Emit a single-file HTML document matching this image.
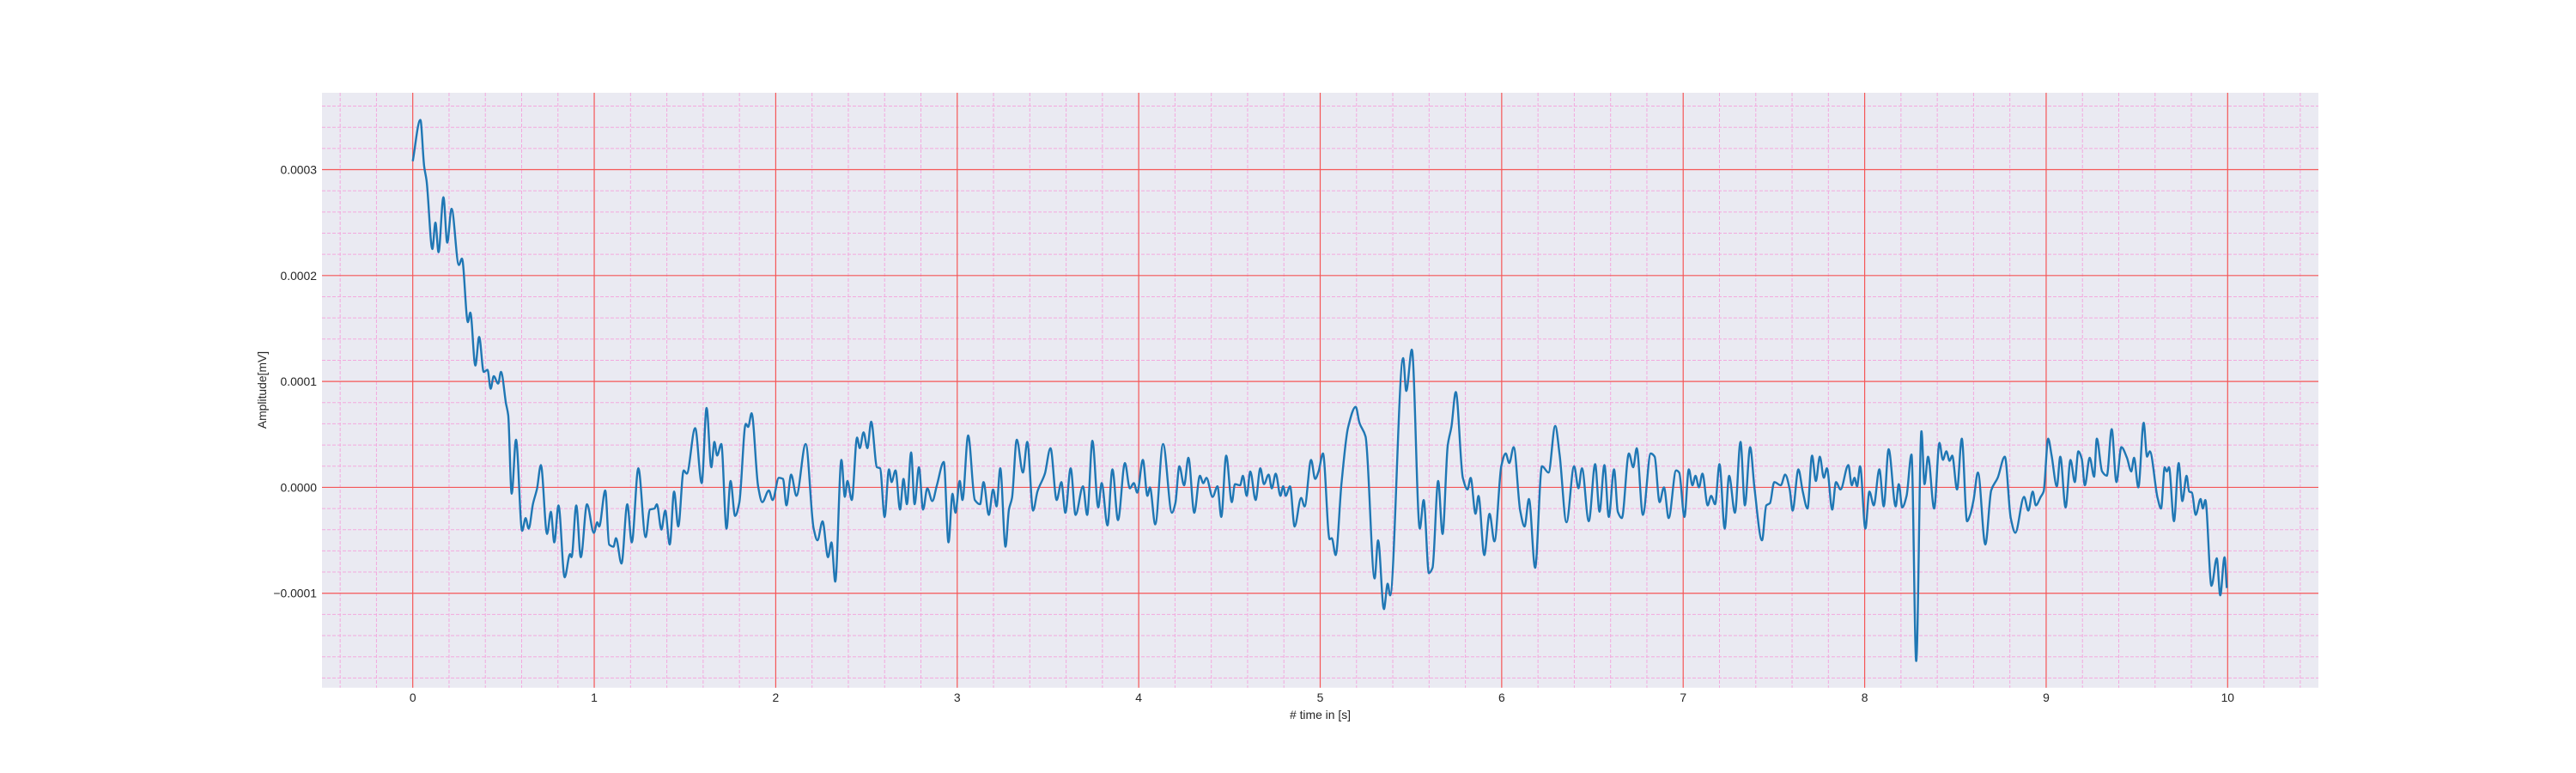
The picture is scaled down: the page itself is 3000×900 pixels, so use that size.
<!DOCTYPE html>
<html><head><meta charset="utf-8"><style>
html,body{margin:0;padding:0;background:#fff;}
svg{display:block;font-family:"Liberation Sans",Arial,sans-serif;}
</style></head><body>
<svg id="chart" width="3000" height="900" xmlns="http://www.w3.org/2000/svg">
<rect x="375" y="108" width="2325" height="692.7" fill="#eaeaf2"/>
<g id="grid"></g>
<g id="series"></g>
<g id="ticks"></g>
<text x="1537.5" y="837" font-size="13.9" fill="#262626" text-anchor="middle"># time in [s]</text>
<text x="0" y="0" font-size="13.9" fill="#262626" text-anchor="middle" transform="translate(310,454) rotate(-90)">Amplitude[mV]</text>
</svg>
<script>
const times=[0,.042,.063,.076,.108,.125,.142,.169,.19,.214,.254,.271,.304,.317,.345,.366,.391,.412,.429,.446,.471,.486,.514,.526,.545,.569,.603,.622,.639,.662,.685,.706,.740,.761,.780,.803,.837,.867,.875,.901,.926,.960,.998,1.017,1.027,1.061,1.082,1.106,1.120,1.150,1.182,1.207,1.243,1.283,1.307,1.332,1.345,1.370,1.391,1.416,1.440,1.463,1.493,1.510,1.556,1.592,1.619,1.645,1.662,1.677,1.700,1.729,1.751,1.776,1.799,1.835,1.848,1.867,1.903,1.926,1.962,1.983,2.017,2.040,2.059,2.085,2.114,2.165,2.209,2.230,2.258,2.288,2.307,2.328,2.362,2.381,2.395,2.419,2.448,2.463,2.484,2.505,2.526,2.558,2.575,2.600,2.624,2.638,2.660,2.685,2.704,2.723,2.746,2.765,2.789,2.812,2.835,2.863,2.888,2.926,2.952,2.974,2.990,3.014,3.029,3.060,3.097,3.126,3.145,3.174,3.198,3.217,3.237,3.266,3.285,3.302,3.328,3.362,3.386,3.418,3.442,3.483,3.514,3.548,3.574,3.596,3.625,3.652,3.693,3.716,3.745,3.777,3.796,3.828,3.855,3.886,3.924,3.951,3.973,3.992,4.023,4.048,4.062,4.091,4.134,4.183,4.202,4.224,4.250,4.274,4.306,4.337,4.356,4.373,4.407,4.434,4.455,4.482,4.513,4.530,4.559,4.574,4.595,4.615,4.644,4.670,4.690,4.716,4.733,4.755,4.781,4.796,4.810,4.834,4.859,4.895,4.914,4.950,4.972,4.991,5.015,5.052,5.064,5.085,5.117,5.153,5.196,5.216,5.250,5.300,5.319,5.351,5.372,5.385,5.457,5.474,5.505,5.549,5.570,5.599,5.619,5.650,5.674,5.703,5.723,5.747,5.786,5.812,5.829,5.856,5.872,5.904,5.933,5.960,5.998,6.022,6.042,6.066,6.102,6.126,6.150,6.184,6.222,6.258,6.295,6.319,6.357,6.399,6.423,6.442,6.480,6.515,6.539,6.566,6.590,6.619,6.640,6.662,6.701,6.725,6.744,6.778,6.821,6.843,6.870,6.894,6.920,6.961,6.978,7.007,7.031,7.051,7.068,7.087,7.106,7.135,7.154,7.176,7.200,7.229,7.253,7.285,7.316,7.340,7.369,7.393,7.434,7.458,7.478,7.502,7.538,7.562,7.587,7.603,7.635,7.659,7.685,7.710,7.731,7.753,7.775,7.792,7.821,7.842,7.867,7.910,7.929,7.944,7.958,7.975,8.004,8.026,8.050,8.081,8.105,8.132,8.171,8.188,8.207,8.231,8.258,8.284,8.313,8.330,8.349,8.383,8.412,8.431,8.450,8.468,8.482,8.509,8.535,8.564,8.581,8.600,8.624,8.665,8.697,8.733,8.772,8.805,8.830,8.878,8.902,8.926,8.943,8.970,8.986,9.011,9.030,9.059,9.078,9.107,9.134,9.158,9.177,9.196,9.213,9.240,9.264,9.279,9.308,9.334,9.361,9.387,9.414,9.445,9.469,9.484,9.508,9.537,9.556,9.571,9.614,9.633,9.653,9.665,9.677,9.704,9.730,9.750,9.774,9.788,9.803,9.824,9.851,9.863,9.877,9.911,9.940,9.959,9.983,9.995];
const amplitudes=[3.08,3.47,3.03,2.90,2.25,2.50,2.22,2.74,2.31,2.63,2.10,2.16,1.56,1.65,1.15,1.42,1.09,1.11,0.93,1.05,0.98,1.09,0.79,0.68,-0.06,0.45,-0.41,-0.29,-0.39,-0.16,-0.01,0.21,-0.44,-0.23,-0.52,-0.17,-0.85,-0.63,-0.66,-0.17,-0.66,-0.16,-0.43,-0.33,-0.37,-0.03,-0.54,-0.56,-0.48,-0.72,-0.16,-0.52,0.18,-0.47,-0.21,-0.20,-0.16,-0.40,-0.22,-0.54,-0.04,-0.37,0.16,0.13,0.56,0.04,0.75,0.19,0.43,0.30,0.41,-0.39,0.06,-0.27,-0.15,0.60,0.57,0.70,0.01,-0.14,-0.03,-0.12,0.09,0.08,-0.17,0.12,-0.08,0.41,-0.39,-0.50,-0.32,-0.66,-0.52,-0.89,0.26,-0.09,0.06,-0.12,0.47,0.37,0.52,0.37,0.62,0.19,0.18,-0.28,0.17,0.05,0.16,-0.21,0.08,-0.16,0.33,-0.16,0.19,-0.21,-0.01,-0.13,0.02,0.24,-0.52,-0.06,-0.24,0.06,-0.12,0.49,-0.12,-0.16,0.05,-0.26,-0.02,-0.18,0.18,-0.56,-0.21,-0.10,0.45,0.14,0.43,-0.22,-0.04,0.13,0.37,-0.12,0.05,-0.24,0.18,-0.26,0.01,-0.26,0.44,-0.19,0.04,-0.36,0.17,-0.31,0.23,-0.01,0.04,-0.05,0.26,-0.08,0,-0.35,0.41,-0.24,-0.15,0.20,0.02,0.28,-0.24,0.11,0.04,0.09,-0.09,0.01,-0.28,0.30,-0.14,0.03,0.02,0.11,-0.08,0.15,-0.12,0.18,0.03,0.12,-0.01,0.13,-0.08,0.01,-0.08,0.01,-0.37,-0.10,-0.18,0.26,0.08,0.15,0.32,-0.49,-0.48,-0.64,0.03,0.56,0.76,0.61,0.48,-0.86,-0.50,-1.15,-0.91,-1.02,1.22,0.91,1.30,-0.39,-0.12,-0.81,-0.76,0.06,-0.44,0.40,0.57,0.90,0.09,-0.02,0.09,-0.25,-0.08,-0.64,-0.25,-0.51,0.20,0.32,0.23,0.38,-0.22,-0.37,-0.11,-0.76,0.20,0.14,0.58,0.31,-0.33,0.20,-0.01,0.18,-0.32,0.22,-0.23,0.21,-0.28,0.17,-0.23,-0.29,0.32,0.19,0.37,-0.26,0.32,0.29,-0.14,0,-0.29,0.16,0.14,-0.28,0.17,0.02,0.11,0,0.13,-0.17,-0.08,-0.16,0.22,-0.39,0.11,-0.24,0.43,-0.17,0.38,-0.01,-0.50,-0.17,-0.15,0.05,0.02,0.12,-0.02,-0.22,0.17,-0.04,-0.20,0.30,0.06,0.29,0.09,0.18,-0.21,0.05,-0.02,0.21,0.02,0.09,0.01,0.20,-0.39,-0.04,-0.17,0.17,-0.18,0.36,-0.18,0.03,-0.19,-0.08,0.31,-1.64,0.53,0.03,0.29,-0.20,0.42,0.26,0.34,0.25,0.30,-0.02,0.46,-0.32,-0.26,-0.12,0.14,-0.54,-0.03,0.09,0.29,-0.29,-0.43,-0.09,-0.22,-0.04,-0.17,-0.09,-0.04,0.46,0.30,0.01,0.29,-0.19,0.26,0.05,0.34,0.27,0.02,0.28,0.10,0.46,0.15,0.11,0.55,0.05,0.38,0.28,0.15,0.28,0,0.61,0.29,0.34,-0.10,-0.20,0.19,0.15,0.19,-0.32,0.23,-0.13,0.11,-0.04,-0.05,-0.26,-0.11,-0.20,-0.12,-0.93,-0.67,-1.02,-0.66,-0.95];
const xTicks=[0,1,2,3,4,5,6,7,8,9,10];
const yTicks=[-1,0,1,2,3];
const yTickLabels=["\u22120.0001","0.0000","0.0001","0.0002","0.0003"];

const NS="http://www.w3.org/2000/svg";
const X0=375,X1=2700,Y0=108,Y1=800.7,xmin=-0.5,xmax=10.5,ymin=-1.892,ymax=3.726;
function sx(t){return X0+(t-xmin)/(xmax-xmin)*(X1-X0);}
function sy(v){return Y1-(v-ymin)/(ymax-ymin)*(Y1-Y0);}
function mk(tag,attrs,parent){const e=document.createElementNS(NS,tag);for(const k in attrs)e.setAttribute(k,attrs[k]);parent.appendChild(e);return e;}
const grid=document.getElementById('grid'),ticks=document.getElementById('ticks'),series=document.getElementById('series');
// minor grid
for(let i=-2;i<=52;i++){const t=i*0.2;if(t<xmin||t>xmax||i%5===0)continue;
 const l=mk('line',{x1:sx(t),x2:sx(t),y1:Y0,y2:Y1,stroke:'#f3a9de','stroke-width':1,'stroke-dasharray':'4,2'},grid);
 
 }
for(let i=-9;i<=18;i++){const v=i*0.2;if(v<ymin||v>ymax||i%5===0)continue;
 const l=mk('line',{x1:X0,x2:X1,y1:sy(v),y2:sy(v),stroke:'#f3a9de','stroke-width':1,'stroke-dasharray':'4,2'},grid);
 
 }
xTicks.forEach(t=>{const l=mk('line',{x1:sx(t),x2:sx(t),y1:Y0,y2:Y1,stroke:'#f55656','stroke-width':1.2},grid);
 
 
 const tx=mk('text',{x:sx(t),y:817,'font-size':13.9,fill:'#262626','text-anchor':'middle'},ticks);tx.textContent=t;
 
 });
yTicks.forEach((v,i)=>{const l=mk('line',{x1:X0,x2:X1,y1:sy(v),y2:sy(v),stroke:'#f55656','stroke-width':1.2},grid);
 
 
 const tx=mk('text',{x:369,y:sy(v)+5,'font-size':13.9,fill:'#262626','text-anchor':'end'},ticks);tx.textContent=yTickLabels[i];
 
 });
// monotone cubic path
const px=times.map(sx),py=amplitudes.map(sy),n=px.length;
const m=new Array(n).fill(0),d=[];
for(let i=0;i<n-1;i++)d.push((py[i+1]-py[i])/(px[i+1]-px[i]));
m[0]=d[0];m[n-1]=d[n-2];
for(let i=1;i<n-1;i++){if(d[i-1]*d[i]<=0)m[i]=0;else{const h0=px[i]-px[i-1],h1=px[i+1]-px[i];m[i]=3*(h0+h1)/((2*h1+h0)/d[i-1]+(h1+2*h0)/d[i]);}}
let p='M'+px[0].toFixed(1)+','+py[0].toFixed(1);
for(let i=0;i<n-1;i++){const h=(px[i+1]-px[i])/3;
 p+='C'+(px[i]+h).toFixed(1)+','+(py[i]+m[i]*h).toFixed(1)+' '+(px[i+1]-h).toFixed(1)+','+(py[i+1]-m[i+1]*h).toFixed(1)+' '+px[i+1].toFixed(1)+','+py[i+1].toFixed(1);}
const path=mk('path',{d:p,fill:'none',stroke:'#1f77b4','stroke-width':2.4,'stroke-linejoin':'round'},series);


</script>
</body></html>
